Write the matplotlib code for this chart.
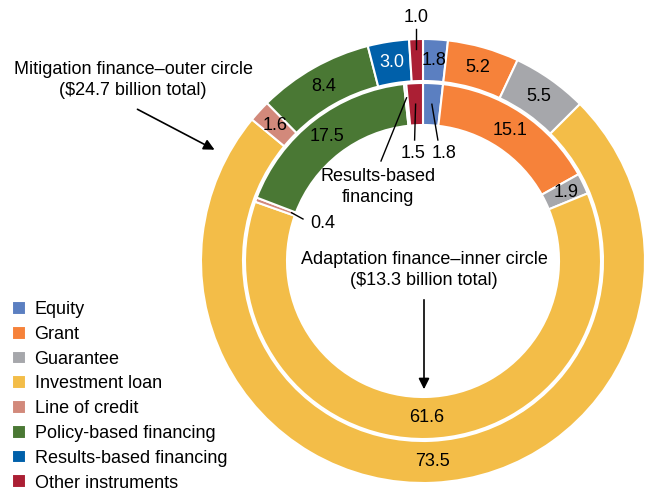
import matplotlib
matplotlib.use("Agg")
from matplotlib import pyplot as plt
import numpy as np

categories = ["Equity", "Grant", "Guarantee", "Investment loan", "Line of credit",
              "Policy-based financing", "Results-based financing", "Other instruments"]
mitigation = [1.8, 5.2, 5.5, 73.5, 1.6, 8.4, 3.0, 1.0]
adaptation = [1.8, 15.1, 1.9, 61.6, 0.4, 17.5, 0.2, 1.5]
colors = ["#5b7fc1", "#f6823a", "#a6a7ab", "#f3bd48", "#d2897b", "#4a7834", "#0060aa", "#ab1f34"]

plt.rcParams["font.family"] = ["Liberation Sans Narrow", "Liberation Sans", "DejaVu Sans"]
plt.rcParams["font.size"] = 13

W, H = 649, 493
fig = plt.figure(figsize=(W / 100, H / 100), dpi=100)
ax = fig.add_axes([0, 0, 1, 1])


def Y(y):
    # image pixel row -> axis y (y up)
    return H - y


cx, cy = 423, Y(261)
r_out, r_in = 222, 178
ring = 42

wedges_out, _ = ax.pie(mitigation, colors=colors, startangle=90, counterclock=False,
                       radius=r_out, center=(cx, cy), frame=True,
                       wedgeprops=dict(width=ring, edgecolor="white", linewidth=1.5))
wedges_in, _ = ax.pie(adaptation, colors=colors, startangle=90, counterclock=False,
                      radius=r_in, center=(cx, cy), frame=True,
                      wedgeprops=dict(width=ring, edgecolor="white", linewidth=1.5))
ax.set_xlim(0, W)
ax.set_ylim(0, H)
ax.set_aspect("equal")
ax.axis("off")


def mid_point(vals, i, r):
    tot = sum(vals)
    start = sum(vals[:i]) / tot * 360
    mid = start + vals[i] / tot * 360 / 2
    ang = np.deg2rad(90 - mid)
    return cx + r * np.cos(ang), cy + r * np.sin(ang)


# outer ring labels
for i, v in enumerate(mitigation):
    if i == 7:
        continue
    x, y = mid_point(mitigation, i, r_out - ring / 2)
    ax.text(x, y, f"{v:.1f}", ha="center", va="center",
            color="white" if i == 6 else "black")

x, y = mid_point(mitigation, 7, r_out - 10)
ax.text(x, Y(17), "1.0", ha="center", va="center")
ax.plot([x, x], [Y(29), y], color="black", lw=1)

# inner ring labels
for i in [1, 3, 5]:
    x, y = mid_point(adaptation, i, r_in - ring / 2)
    ax.text(x, y, f"{adaptation[i]:.1f}", ha="center", va="center")
x, y = mid_point(adaptation, 2, r_in - ring / 2)
ax.text(x + 2, y, "1.9", ha="center", va="center")

x, y = mid_point(adaptation, 4, r_in - ring + 4)
ax.plot([x, 303], [y, Y(219)], color="black", lw=1)
ax.text(323, Y(224), "0.4", ha="center", va="center")

x, y = mid_point(adaptation, 7, r_in - ring / 2)
ax.plot([x, x - 1], [y, Y(140)], color="black", lw=1)
ax.text(x - 3, Y(154), "1.5", ha="center", va="center")
x, y = mid_point(adaptation, 0, r_in - ring / 2)
ax.plot([x, x + 6], [y, Y(140)], color="black", lw=1)
ax.text(x + 12, Y(154), "1.8", ha="center", va="center")

x, y = mid_point(adaptation, 6, r_in - 14)
ax.plot([381, x], [Y(161), y], color="black", lw=1)
ax.text(378, Y(187), "Results-based\nfinancing", ha="center", va="center", linespacing=1.3)

# ring titles
ax.text(424, Y(270), "Adaptation finance\u2013inner circle\n($13.3 billion total)",
        ha="center", va="center", linespacing=1.3)
ax.annotate("", xy=(424, Y(392)), xytext=(424, Y(297)),
            arrowprops=dict(arrowstyle="-|>", color="black", lw=1.2, mutation_scale=16))
ax.text(133, Y(80), "Mitigation finance\u2013outer circle\n($24.7 billion total)",
        ha="center", va="center", linespacing=1.3)
ax.annotate("", xy=(217, Y(151)), xytext=(135, Y(108)),
            arrowprops=dict(arrowstyle="-|>", color="black", lw=1.2, mutation_scale=16))

ax.legend(wedges_out, categories, loc="upper left", bbox_to_anchor=(12 / W, 1 - 301 / H),
          frameon=False, handlelength=0.8, handleheight=0.8, handletextpad=0.45,
          labelspacing=0.42, borderaxespad=0, borderpad=0)

fig.savefig("out.png", dpi=100)
